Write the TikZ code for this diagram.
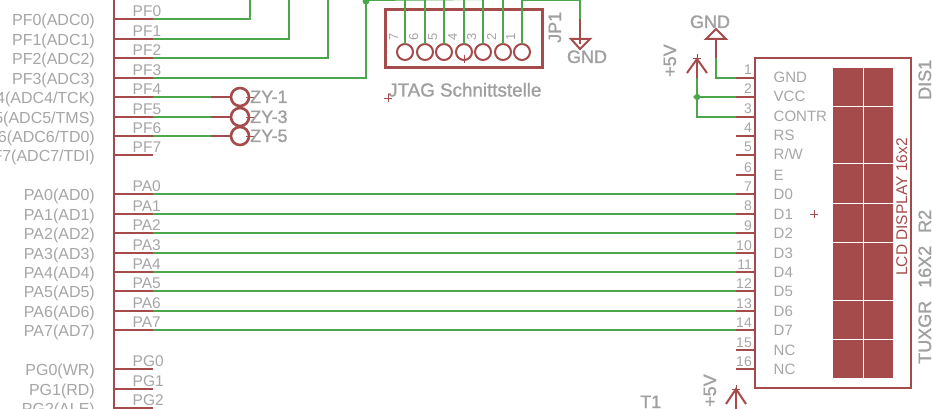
\documentclass[tikz,border=0pt]{standalone}
\usepackage{fontspec}
\setmainfont{Liberation Sans}
\newfontfamily\heavyfont[FakeBold=1.2]{Liberation Sans}
\definecolor{netred}{HTML}{A54B4B}
\definecolor{netgreen}{HTML}{4CA64C}
\definecolor{labelgray}{HTML}{A6A6A6}
\definecolor{heavygray}{HTML}{A0A0A0}
\tikzset{
 pinline/.style={draw=netred,line width=2pt},
 netline/.style={draw=netgreen,line width=2pt},
 part/.style={draw=netred,line width=2pt,fill=none},
 thinred/.style={draw=netred,line width=0.8pt},
 lbl/.style={text=labelgray,inner sep=0pt,font=\fontsize{15.5}{16}\selectfont},
 lblr/.style={lbl,anchor=base east},
 lbll/.style={lbl,anchor=base west},
 heavy/.style={text=heavygray,inner sep=0pt,font=\heavyfont\fontsize{18}{18}\selectfont},
 lcdblock/.style={fill=netred,draw=none},
}
\begin{document}
\begin{tikzpicture}[x=1pt,y=-1pt]
\useasboundingbox (0,0) rectangle (932,409);
\fill[white] (0,0) rectangle (932,409);
\begin{scope}
\clip (0,0) rectangle (932,409);
% MCU body edge
\coordinate (bodytop) at (114,-2);
\coordinate (bodybot) at (114,411);
\draw[pinline] (bodytop) -- (bodybot);
% MCU pins with labels
\foreach \yy/\nm/\func in {19/PF0/{PF0(ADC0)},39/PF1/{PF1(ADC1)},58/PF2/{PF2(ADC2)},78/PF3/{PF3(ADC3)},97/PF4/{PF4(ADC4/TCK)},117/PF5/{PF5(ADC5/TMS)},136/PF6/{PF6(ADC6/TD0)},155/PF7/{PF7(ADC7/TDI)},194/PA0/{PA0(AD0)},214/PA1/{PA1(AD1)},233/PA2/{PA2(AD2)},253/PA3/{PA3(AD3)},272/PA4/{PA4(AD4)},291/PA5/{PA5(AD5)},311/PA6/{PA6(AD6)},330/PA7/{PA7(AD7)},369/PG0/{PG0(WR)},389/PG1/{PG1(RD)},408/PG2/{PG2(ALE)}}{
  \coordinate (\nm a) at (114,\yy);
  \coordinate (\nm b) at (153,\yy);
  \draw[pinline] (\nm a) -- (\nm b);
  \node[lbll] (\nm t) at (132.5,\yy-2.5) {\nm};
  \node[lblr,font=\fontsize{16}{17}\selectfont] (\nm f) at (95,\yy+6.5) {\func};
}
% LCD pins
\foreach \n/\yy in {1/78,2/97,3/117,4/136,5/155,6/175,7/194,8/214,9/233,10/253,11/272,12/291,13/311,14/330,15/350,16/369}{
  \coordinate (L\n a) at (736,\yy);
  \coordinate (L\n b) at (755,\yy);
  \draw[pinline] (L\n a) -- (L\n b);
  \node[lblr,font=\fontsize{14}{14}\selectfont] (L\n n) at (752,\yy-3) {\n};
}
\foreach \n/\yy/\txt in {1/83/GND,2/102/VCC,3/122/CONTR,4/141/RS,5/160/{R/W},6/180/E,7/199/D0,8/219/D1,9/238/D2,10/258/D3,11/277/D4,12/296/D5,13/316/D6,14/335/D7,15/355/NC,16/374/NC}{
  \node[lbll,font=\fontsize{15}{15}\selectfont] (L\n t) at (773.5,\yy) {\txt};
}
% PA to LCD nets
\foreach \p/\q in {PA0/7,PA1/8,PA2/9,PA3/10,PA4/11,PA5/12,PA6/13,PA7/14}{
  \draw[netline] (\p b) -- (L\q a);
}
% JTAG header
\draw[draw=netred,line width=3pt,line join=miter] (385,10) rectangle (542,68);
\foreach \i/\xx/\lab in {c7/405/7,c6/425/6,c5/444/5,c4/464/4,c3/483/3,c2/503/2,c1/522/1}{
  \coordinate (\i) at (\xx,52);
  \draw[part] (\i) circle[radius=8];
  \coordinate (\i t) at (\xx,-1);
  \coordinate (\i p) at (\xx,44);
  \draw[netline] (\i t) -- (\i p);
  \node[lbl,rotate=90,anchor=base west,font=\fontsize{13}{13}\selectfont] (\i n) at (\xx-7,41) {\lab};
}
\draw[thinred] (464,55) -- (464,63) (460,59) -- (468,59);
\node[heavy,rotate=90,anchor=base west] (jp) at (561,43) {JP1};
\node[heavy,anchor=base west,font=\heavyfont\fontsize{18.8}{19}\selectfont] (jtag) at (388,96.5) {JTAG Schnittstelle};
\draw[thinred] (384,98) -- (392,98) (388,94) -- (388,102);
% PF nets
\draw[netline] (PF0b) -| (250,-2);
\draw[netline] (PF1b) -| (289,-2);
\draw[netline] (PF2b) -| (328,-2);
\draw[netline] (PF3b) -| (366,-2);
\fill[netgreen] (366,1) circle[radius=3.5];
\draw[netline] (366,0) -- (c3t);
\coordinate (gndj) at (580,19);
\draw[netline] (522,0) -| (gndj);
% JP GND
\coordinate (gndjb) at (580,44);
\draw[pinline] (gndj) -- (gndjb);
\draw[part] (571,39) -- (590,39) -- (580,49) -- cycle;
\node[heavy,anchor=base] (gndjt) at (587,63) {GND};
% ZY pads
\foreach \yy/\lab/\id/\pf in {97/ZY-1/a/PF4,117/ZY-3/b/PF5,136/ZY-5/c/PF6}{
  \coordinate (z\id) at (240,\yy);
  \coordinate (z\id p) at (211,\yy);
  \draw[netline] (\pf b) -- (z\id p);
  \draw[pinline] (z\id p) -- ++(20,0);
  \draw[draw=netred,line width=2.6pt] (z\id) circle[radius=9];
  \draw[thinred] (246,\yy) -- (255,\yy);
  \node[heavy,anchor=base west] (z\id t) at (250,\yy+6) {\lab};
}
% LCD body
\draw[draw=netred,line width=2pt] (755,58) rectangle (911,388);
\fill[lcdblock] (833,68) rectangle (893,378);
\draw[white,line width=1pt] (863,67) -- (863,379);
\foreach \yy in {106.5,164,203,242,300,339}{
  \draw[white,line width=1pt] (832,\yy) -- (894,\yy);
}
\draw[thinred] (810,214) -- (818,214) (814,210) -- (814,218);
\node[rotate=90,anchor=base west,inner sep=0pt,text=netred,font=\fontsize{15.5}{16}\selectfont] (lcdname) at (907,276) {LCD DISPLAY 16x2};
\node[heavy,rotate=90,anchor=base west] (dis) at (931,100) {DIS1};
\node[heavy,rotate=90,anchor=base west] (tuxgr) at (931,364) {TUXGR\hspace{13pt}16X2\hspace{13pt}R2};
% +5V and GND at the LCD
\coordinate (vcc) at (697,59);
\coordinate (vccs) at (697,78);
\draw[pinline] (vcc) -- (vccs);
\draw[draw=netred,line width=2pt] (687,73) -- (vcc) -- (707,73);
\draw[thinred] (697,54) -- (697,60) (693,58) -- (701,58);
\draw[netline] (vccs) -- (697,117) -- (L3a);
\draw[netline] (697,97) -- (L2a);
\fill[netgreen] (697,93) -- (701,97) -- (697,101) -- (693,97) -- cycle;
\node[heavy,rotate=90,anchor=base west] (vt) at (676,77) {+5V};
\coordinate (gtop) at (716,39);
\coordinate (gmid) at (716,58);
\draw[pinline] (gtop) -- (gmid);
\draw[netline] (gmid) |- (L1a);
\draw[part] (706,39) -- (726,39) -- (716,29) -- cycle;
\node[heavy,anchor=base] (gt) at (710,28) {GND};
% lower +5V
\coordinate (v2) at (736,389);
\coordinate (v2s) at (736,409);
\draw[pinline] (v2) -- (v2s);
\draw[draw=netred,line width=2pt] (726,404) -- (v2) -- (746,404);
\draw[thinred] (736,385) -- (736,391) (732,389) -- (740,389);
\node[heavy,rotate=90,anchor=base west] (v2t) at (716,407) {+5V};
\node[heavy,anchor=base west] (t1) at (640,408) {T1};
\end{scope}
\end{tikzpicture}
\end{document}
